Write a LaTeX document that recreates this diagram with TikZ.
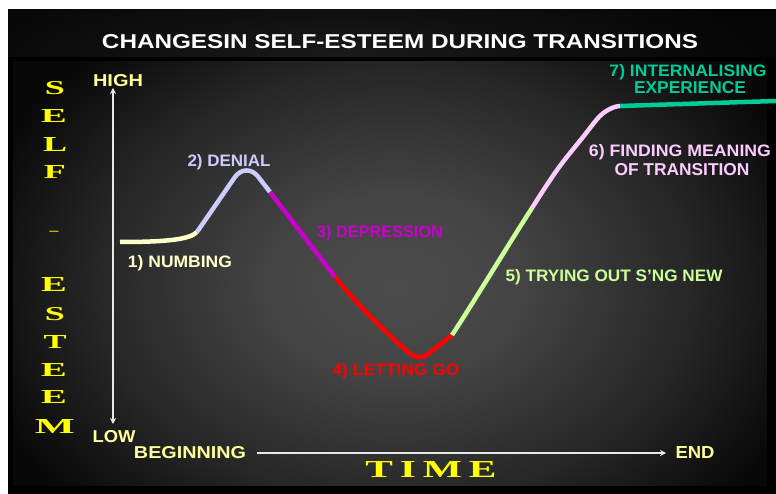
\documentclass[tikz,border=0pt]{standalone}
\usepackage{fontspec}
\setmainfont{Liberation Sans}
\newfontfamily\capserif{Liberation Serif}
\usepackage{graphicx}
\usetikzlibrary{arrows.meta}

% palette
\definecolor{paleyellow}{HTML}{FFFF99}
\definecolor{cream}{HTML}{FFFFCC}
\definecolor{lavender}{HTML}{CCCCFF}
\definecolor{purplemag}{HTML}{CC00CC}
\definecolor{brightred}{HTML}{FF0000}
\definecolor{lightgreen}{HTML}{CCFF99}
\definecolor{pinkish}{HTML}{FFCCFF}
\definecolor{teal}{HTML}{00CC99}
\definecolor{signyellow}{HTML}{FFFF00}
\definecolor{dashyellow}{HTML}{D8CC00}
\definecolor{axisgrey}{HTML}{E8E8E8}
\definecolor{glowA}{HTML}{4C4C4C}
\definecolor{glowB}{HTML}{444444}
\definecolor{glowC}{HTML}{262626}
\definecolor{glowD}{HTML}{080808}
\definecolor{bandA}{HTML}{1A1A1A}
\definecolor{bandB}{HTML}{050505}

% soft glow behind the chart (25bp = edge of the shaded box)
\pgfdeclareradialshading{glow}{\pgfpoint{0bp}{0bp}}{%
  color(0bp)=(glowA); color(7bp)=(glowB); color(17bp)=(glowC);
  color(25bp)=(glowD); color(50bp)=(glowD)}
\pgfdeclareradialshading{bandglow}{\pgfpoint{0bp}{0bp}}{%
  color(0bp)=(bandA); color(25bp)=(bandB); color(50bp)=(bandB)}

% caps text squeezed into a given width and cap height
\newcommand{\fitcaps}[3]{\resizebox{#1pt}{#2pt}{\bfseries #3}}
\newcommand{\fitserif}[3]{\resizebox{#1pt}{#2pt}{\capserif\bfseries #3}}

\begin{document}
\begin{tikzpicture}[x=1pt, y=-1pt,
    lbl/.style={anchor=base, inner sep=0pt, outer sep=0pt},
    serifcap/.style={anchor=base, inner sep=0pt, text=signyellow},
    stage/.style={line width=4.5pt, line cap=butt, line join=round},
    axis/.style={axisgrey, line width=1.8pt, >={Stealth[length=6pt, width=6pt]}}]

\useasboundingbox (0,0) rectangle (776,494);
\fill[white] (0,0) rectangle (776,494);

% frame, title band and chart area
\fill[black] (8,10) rectangle (776,494);
\begin{scope}
  \clip (8,10) rectangle (776,57);
  \shade[shading=bandglow] (-100,-30) rectangle (780,140);
\end{scope}
\begin{scope}
  \clip (13,62) rectangle (767,485);
  \shade[shading=glow] (-45,-35) rectangle (835,605);
\end{scope}

% title
\node[lbl, text=white] (title) at (400,49)
  {\fitcaps{596}{14}{CHANGESIN SELF-ESTEEM DURING TRANSITIONS}};

% vertical caption
\node[serifcap] (ls1) at (55,95)  {\fitserif{20}{13}{S}};
\node[serifcap] (le1) at (54,123) {\fitserif{26}{13}{E}};
\node[serifcap] (ll1) at (55,152) {\fitserif{24}{14}{L}};
\node[serifcap] (lf1) at (55,179) {\fitserif{22}{13}{F}};
\node[serifcap, font=\capserif\bfseries\fontsize{16}{16}\selectfont, text=dashyellow]
  (ldash) at (54,236) {\scalebox{1.1}[1]{–}};
\node[serifcap] (le2) at (54,292) {\fitserif{26}{14}{E}};
\node[serifcap] (ls2) at (55,320) {\fitserif{20}{13}{S}};
\node[serifcap] (lt1) at (55,348) {\fitserif{23}{13}{T}};
\node[serifcap] (le3) at (54,376) {\fitserif{26}{13}{E}};
\node[serifcap] (le4) at (54,403) {\fitserif{26}{13}{E}};
\node[serifcap] (lm1) at (55,433) {\fitserif{40}{14}{M}};

% time caption
\node[serifcap] (time) at (431,477) {\fitserif{131}{16}{T\,I\,M\,E}};

% axes
\coordinate (vtop) at (113,88);
\coordinate (vbot) at (113,424);
\draw[axis, <->] (vtop) -- (vbot);
\coordinate (hstart) at (257,453);
\coordinate (hend) at (666,453);
\draw[axis, ->] (hstart) -- (hend);

\node[lbl, text=paleyellow] (high) at (118,87)  {\fitcaps{50}{12}{HIGH}};
\node[lbl, text=paleyellow] (low)  at (114,442) {\fitcaps{43}{12}{LOW}};
\node[lbl, text=paleyellow] (beg)  at (190,458) {\fitcaps{112}{12}{BEGINNING}};
\node[lbl, text=paleyellow] (end)  at (695,458) {\fitcaps{39}{12}{END}};

% the self-esteem curve, one colour per stage
\coordinate (n0) at (120,242);
\coordinate (n1) at (197,232);
\coordinate (peak) at (246,161);
\coordinate (d1) at (270,192);
\coordinate (p1) at (335,277);
\coordinate (bottom) at (417,357);
\coordinate (l1) at (452,335);
\coordinate (t1) at (532,208);
\coordinate (m1) at (620,106);
\coordinate (i1) at (776,101);

\draw[stage, cream] (n0) .. controls (170,242) and (190,239) .. (n1);
\draw[stage, lavender, rounded corners=20pt] (n1) -- (peak) -- (d1);
\draw[stage, purplemag] (d1) -- (p1);
\draw[stage, brightred] (p1) .. controls (358,306) and (392,338) .. (407,351)
  .. controls (413,357) and (420,360) .. (428,354)
  .. controls (436,348) and (444,341) .. (l1);
\draw[stage, lightgreen] (l1) .. controls (470,308) and (505,250) .. (t1);
\draw[stage, pinkish] plot[smooth, tension=0.6] coordinates
  {(532,208) (557,170) (583,137) (600,116) (612,108) (620,106)};
\draw[stage, teal] (m1) -- (i1);

% stage labels
\node[lbl, text=cream]      (s1) at (180,267) {\fitcaps{104}{12}{1) NUMBING}};
\node[lbl, text=lavender]   (s2) at (229,167) {\fitcaps{83}{12}{2) DENIAL}};
\node[lbl, text=purplemag]  (s3) at (380,238) {\fitcaps{126}{12}{3) DEPRESSION}};
\node[lbl, text=brightred]  (s4) at (396,375) {\fitcaps{127}{12}{4) LETTING GO}};
\node[lbl, text=lightgreen] (s5) at (614,281) {\fitcaps{217}{12}{5) TRYING OUT S’NG NEW}};
\node[lbl, text=pinkish]    (s6a) at (680,157) {\fitcaps{182}{12}{6) FINDING MEANING}};
\node[lbl, text=pinkish]    (s6b) at (682,176) {\fitcaps{135}{12}{OF TRANSITION}};
\node[lbl, text=teal]       (s7a) at (688,77)  {\fitcaps{157}{12}{7) INTERNALISING}};
\node[lbl, text=teal]       (s7b) at (690,94)  {\fitcaps{112}{12}{EXPERIENCE}};

\end{tikzpicture}
\end{document}
